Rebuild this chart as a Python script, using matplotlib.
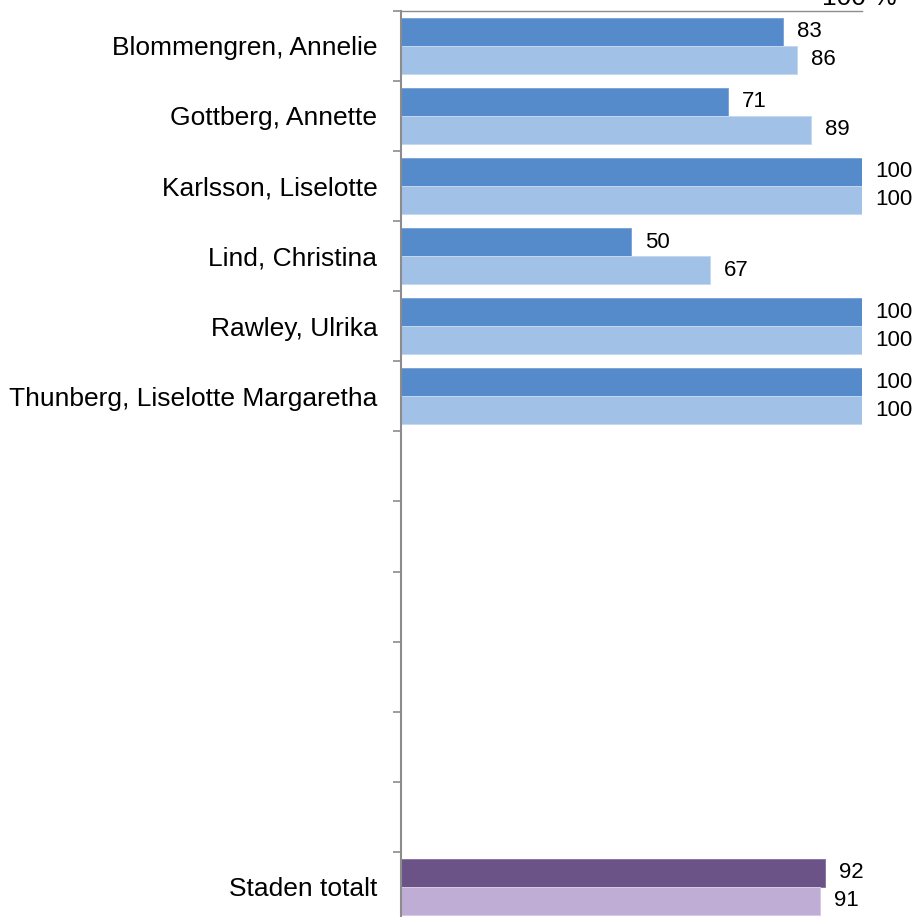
import numpy as np
from matplotlib import pyplot as plt

plt.rcParams['font.family'] = ['Liberation Sans', 'DejaVu Sans']

# categories (empty slots kept as in the original chart)
names = ['Blommengren, Annelie', 'Gottberg, Annette', 'Karlsson, Liselotte',
         'Lind, Christina', 'Rawley, Ulrika', 'Thunberg, Liselotte Margaretha',
         '', '', '', '', '', '', 'Staden totalt']
first_values = [83, 71, 100, 50, 100, 100]
second_values = [86, 89, 100, 67, 100, 100]
total_first = 92
total_second = 91

axis_grey = '#8c8c8c'
dark_blue = '#568bcb'
light_blue = '#a2c1e6'
dark_purple = '#6b5388'
light_purple = '#bfadd5'


def add_labels(ax, rects, values):
    for rect, value in zip(rects, values):
        ax.annotate(str(value), xy=(rect.get_width(), rect.get_y() + rect.get_height() / 2),
                    xytext=(10, 0), textcoords='offset points', ha='left', va='center',
                    fontsize=16, color='black')


fig = plt.figure(figsize=(9.19, 9.17), dpi=100)
ax = fig.add_axes([401 / 919, 1 - 922 / 917, (861.7 - 401) / 919, (922 - 10.7) / 917])

y = np.arange(len(first_values))
height = 0.4

r1 = ax.barh(y - height / 2, first_values, height, color=dark_blue, edgecolor='#7ea5d8', linewidth=0.7)
r2 = ax.barh(y + height / 2, second_values, height, color=light_blue, edgecolor='#c4d8f0', linewidth=0.7)
add_labels(ax, r1, first_values)
add_labels(ax, r2, second_values)

total_pos = len(names) - 1
r3 = ax.barh([total_pos - height / 2], [total_first], height, color=dark_purple, edgecolor='#8a75a5', linewidth=0.7)
r4 = ax.barh([total_pos + height / 2], [total_second], height, color=light_purple, edgecolor='#d6cbe4', linewidth=0.7)
add_labels(ax, r3, [total_first])
add_labels(ax, r4, [total_second])

ax.set_xlim(0, 100)
ax.set_ylim(len(names) - 0.5, -0.5)

ax.set_yticks(np.arange(len(names)))
ax.set_yticklabels(names, fontsize=19)
ax.set_yticks(np.arange(len(names) + 1) - 0.5, minor=True)
ax.tick_params(axis='y', which='major', length=0, pad=17)
ax.tick_params(axis='y', which='minor', length=5.5, width=1.2, color=axis_grey, direction='out')
ax.set_xticks([])

for side in ['right', 'bottom']:
    ax.spines[side].set_visible(False)
ax.spines['left'].set_color(axis_grey)
ax.spines['left'].set_linewidth(1.5)
ax.spines['top'].set_color(axis_grey)
ax.spines['top'].set_linewidth(1)

# top value label, partly outside the figure as in the original
ax.annotate('100 %', xy=(100, -0.5), xytext=(-2, 4), textcoords='offset points',
            ha='center', va='baseline', fontsize=19, annotation_clip=False)

fig.savefig('out.png', dpi=100)
